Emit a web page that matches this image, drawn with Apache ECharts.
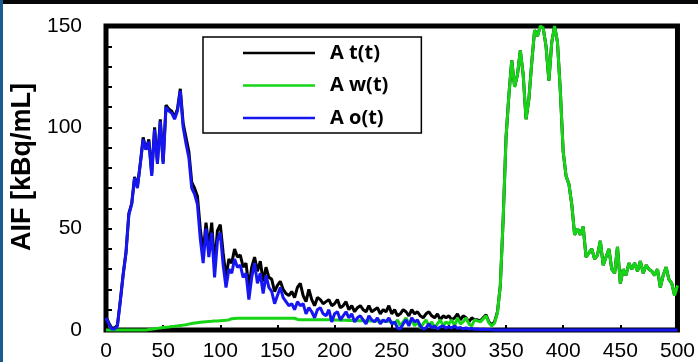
<!DOCTYPE html>
<html>
<head>
<meta charset="utf-8">
<script src="https://cdn.jsdelivr.net/npm/echarts@6/dist/echarts.min.js"></script>
<style>
  html, body { margin: 0; padding: 0; background: #fff; }
  #wrap { position: relative; width: 698px; height: 362px; overflow: hidden; }
  #chart { width: 698px; height: 362px; }
  .edge-top { position: absolute; left: 0; top: 0; width: 698px; height: 4px; background: #060608; }
  .edge-left { position: absolute; left: 0; top: 0; width: 3px; height: 362px; background: #1d5b8c; }
</style>
</head>
<body>
<div id="wrap">
  <div id="chart"></div>
  <div class="edge-top"></div>
  <div class="edge-left"></div>
</div>
<script>
// Sampling: one value every 2.5 s from 0 to 500 s (201 samples per curve)
const T_START = 0;
const T_STEP = 2.5;

const seriesNames = ['A t(t)', 'A w(t)', 'A o(t)'];
const seriesColors = ['#000000', '#16d416', '#1616f2'];

// Total arterial input At(t) [kBq/mL]
const atValues = [
  6.5, 3.5, 1, 1, 2.5, 14.5, 27.5, 38.5, 57.5, 62.5,
  75.5, 71, 82, 95, 89, 94, 77, 100, 83, 104,
  83, 111, 109, 108, 105, 109, 119, 102, 95, 88,
  73, 70, 66, 50, 38, 53, 41, 53, 32, 49,
  52, 38, 26, 35, 33, 40, 36, 37, 31, 33,
  21, 31, 36, 29, 34, 24, 31, 26, 25, 19,
  22, 24, 20, 18, 17, 19, 16, 21, 23, 17,
  14, 20, 15, 12, 16, 15, 13, 14, 15, 12,
  13, 15, 11, 12, 14, 10, 12, 9, 11, 12,
  10, 9, 12, 9, 10, 11, 8, 10, 9, 12,
  8, 10, 7, 8, 10, 9, 7, 10, 8, 9,
  7, 6, 8, 9, 7, 6, 8, 5, 7, 6,
  7, 5, 6, 8, 5, 7, 6, 4, 6, 5,
  5, 4.5, 6, 7.5, 4, 2.5, 4, 9, 22, 55,
  95, 116, 133, 120, 126, 138, 126, 104, 114, 132,
  148, 145, 150, 149, 140, 123, 142, 150, 142, 118,
  88, 76, 72, 62, 47, 50, 47, 51, 36, 38,
  40, 35, 37, 44, 32, 36, 40, 30, 28, 41,
  23, 30, 27, 33, 30, 33, 29, 34, 28, 32,
  30, 29, 27, 30, 21, 27, 31, 25, 23, 17,
  22
];

// Water component Aw(t) [kBq/mL]
const awValues = [
  0, 0, 0, 0, 0, 0, 0, 0, 0, 0,
  0, 0, 0, 0, 0, 0.2, 0.4, 0.6, 0.8, 1.0,
  1.2, 1.4, 1.5, 1.7, 1.8, 2.0, 2.2, 2.4, 2.6, 2.9,
  3.2, 3.4, 3.6, 3.8, 4.0, 4.1, 4.2, 4.3, 4.5, 4.5,
  4.6, 4.7, 4.8, 5.0, 5.6, 5.7, 5.8, 5.8, 5.8, 5.8,
  5.8, 5.8, 5.8, 5.8, 5.8, 5.8, 5.8, 5.8, 5.8, 5.8,
  5.8, 5.8, 5.8, 5.8, 5.8, 5.8, 5.8, 5.2, 5.1, 5.0,
  5.0, 5.0, 5.0, 5.0, 5.0, 5.0, 5.0, 5.0, 5.0, 5.0,
  4.9, 4.9, 4.8, 4.8, 4.8, 4.7, 4.7, 4.7, 4.6, 4.6,
  4.6, 4.5, 4.5, 4.5, 4.4, 4.4, 4.4, 4.3, 4.3, 4.3,
  4, 3, 5, 2, 4, 6, 3, 5, 2, 4,
  1, 3, 5, 2, 4, 1, 3, 5, 2, 4,
  3, 5, 2, 6, 3, 4, 6, 3, 2, 5,
  4.5, 4, 5.5, 7, 3.5, 2, 3.5, 8.5, 22, 55,
  95, 116, 133, 120, 126, 138, 126, 104, 114, 132,
  148, 145, 150, 149, 140, 123, 142, 150, 142, 118,
  88, 76, 72, 62, 47, 50, 47, 51, 36, 38,
  40, 35, 37, 44, 32, 36, 40, 30, 28, 41,
  23, 30, 27, 33, 30, 33, 29, 34, 28, 32,
  30, 29, 27, 30, 21, 27, 31, 25, 23, 17,
  22
];

// Parent-compound component Ao(t) [kBq/mL]
const aoValues = [
  6, 3, 0.5, 0.5, 2, 14, 27, 38, 57, 62,
  75, 70, 82, 94, 89, 93, 76, 99, 82, 103,
  82, 110, 108, 107, 104, 108, 118, 100, 92, 85,
  70, 67, 62, 45, 33, 50, 36, 48, 26, 44,
  48, 32, 21, 30, 28, 35, 31, 32, 26, 28,
  15, 26, 33, 23, 28, 18, 27, 21, 19, 13,
  17, 21, 16, 14, 12, 13, 10, 14, 12, 13,
  8, 11, 9, 6, 10, 11, 8, 7, 10, 4,
  8, 9, 5, 7, 9, 6, 8, 4, 6, 7,
  5, 3, 7, 5, 4, 6, 3, 5, 4, 6,
  3, 4, 1, 0.5, 3, 5, 2, 6, 4, 5,
  2, 0.5, 1, 3, 1, 2, 0.5, 1.5, 2, 1,
  1.5, 1, 2, 0.8, 1.2, 0.6, 1, 0.5, 0.8, 0.4,
  0.5, 0.3, 0.4, 0.2, 0.3, 0.1, 0, 0, 0, 0,
  0, 0, 0, 0, 0, 0, 0, 0, 0, 0,
  0, 0, 0, 0, 0, 0, 0, 0, 0, 0,
  0, 0, 0, 0, 0, 0, 0, 0, 0, 0,
  0, 0, 0, 0, 0, 0, 0, 0, 0, 0,
  0, 0, 0, 0, 0, 0, 0, 0, 0, 0,
  0, 0, 0, 0, 0, 0, 0, 0, 0, 0,
  0
];

const xTicks = { min: 0, max: 500, step: 50 };
const yTicks = { min: 0, max: 150, step: 50 };
const yAxisTitle = 'AIF [kBq/mL]';

function toPairs(values) {
  return values.map((v, i) => [T_START + i * T_STEP, v]);
}

const allValues = [atValues, awValues, aoValues];

const chart = echarts.init(document.getElementById('chart'), null, { renderer: 'canvas' });

const tickFont = { fontFamily: 'Liberation Sans', fontSize: 21, color: '#000' };

chart.setOption({
  animation: false,
  backgroundColor: '#ffffff',
  grid: {
    left: 106, right: 20, top: 26, bottom: 32,
    show: true, borderColor: '#000', borderWidth: 5, backgroundColor: 'transparent'
  },
  legend: {
    orient: 'vertical',
    left: 203, top: 37,
    padding: [6, 33, 5, 40],
    icon: 'rect',
    itemWidth: 72, itemHeight: 2.5, itemGap: 12.5,
    borderColor: '#000', borderWidth: 1.5,
    textStyle: {
      fontFamily: 'Open Sans', fontWeight: 'bold', fontSize: 20, color: '#000',
      lineHeight: 20, padding: [0, 0, 0, 10]
    },
    data: seriesNames
  },
  xAxis: {
    type: 'value',
    min: xTicks.min, max: xTicks.max, interval: xTicks.step,
    axisLine: { show: false },
    axisTick: { show: true, inside: true, length: 5, lineStyle: { color: '#000', width: 2 } },
    axisLabel: Object.assign({ margin: 11 }, tickFont),
    splitLine: { show: false }
  },
  yAxis: {
    type: 'value',
    min: yTicks.min, max: yTicks.max, interval: yTicks.step,
    name: yAxisTitle,
    nameLocation: 'middle',
    nameGap: 70,
    nameRotate: 90,
    nameTextStyle: { fontFamily: 'Liberation Sans', fontWeight: 'bold', fontSize: 27, color: '#000', padding: [0, 0, 0, 22] },
    axisLine: { show: false },
    axisTick: { show: true, inside: true, length: 6, lineStyle: { color: '#000', width: 2 } },
    minorTick: { show: true, splitNumber: 5, length: 6, lineStyle: { color: '#000', width: 2 } },
    axisLabel: Object.assign({ margin: 24 }, tickFont),
    splitLine: { show: false }
  },
  series: seriesNames.map((name, k) => ({
    name: name,
    type: 'line',
    data: toPairs(allValues[k]),
    symbol: 'none',
    clip: false,
    color: seriesColors[k],
    lineStyle: { color: seriesColors[k], width: 3 }
  }))
});
</script>
</body>
</html>
